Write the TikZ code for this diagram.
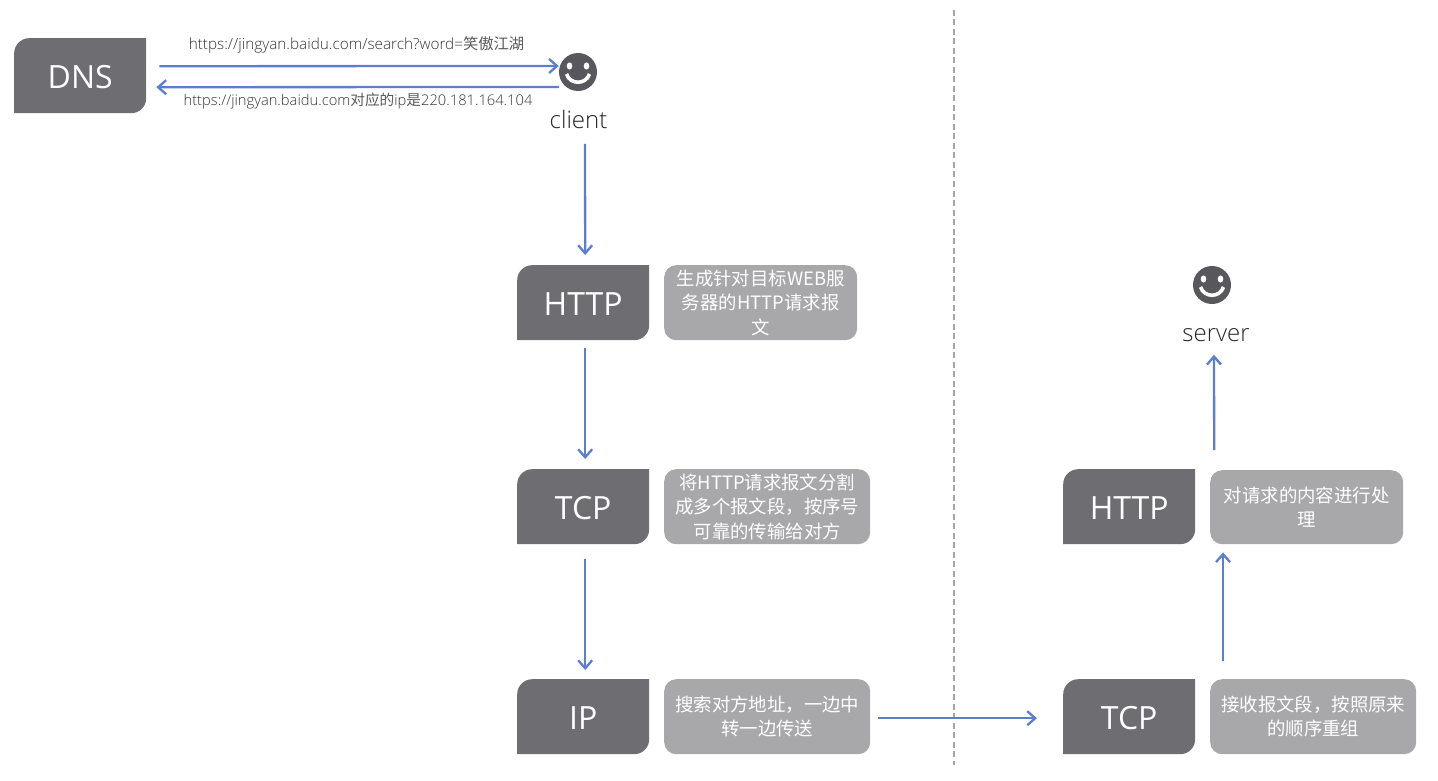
\documentclass[tikz,border=0pt]{standalone}
\usepackage{fontspec}
\setmainfont{Open Sans Light}[BoldFont=Open Sans]
\newfontfamily\boxfont{Open Sans}
\newfontfamily\cjk{Noto Sans CJK SC}
\usetikzlibrary{arrows.meta}
\definecolor{boxgray}{HTML}{6E6D72}
\definecolor{notegray}{HTML}{A8A8AA}
\definecolor{linkblue}{HTML}{5B7FCC}
\definecolor{facegray}{HTML}{58585C}
\definecolor{rulegray}{HTML}{A6A6A8}
\begin{document}
\begin{tikzpicture}[x=1pt,y=-1pt]
      \useasboundingbox (0,0) rectangle (1438,781);

      \tikzstyle{layer} = [
        rectangle,
        anchor=north west,
        inner sep=0pt,
        minimum width=132pt,
        minimum height=75pt,
        text=white,
        text height=26pt,
        text depth=0pt,
        font=\fontsize{32}{36}\selectfont\boxfont,
        path picture={
          \fill[boxgray] (path picture bounding box.north east) [rounded corners=15pt]
            -- (path picture bounding box.south east) [sharp corners]
            -- (path picture bounding box.south west) [rounded corners=15pt]
            -- (path picture bounding box.north west) [sharp corners] -- cycle;
        }
      ]
      \tikzstyle{note} = [
        rectangle,
        anchor=north west,
        fill=notegray,
        rounded corners=12pt,
        inner sep=0pt,
        minimum height=75pt,
        text=white,
        align=center,
        font=\fontsize{18.4}{24.5}\selectfont\cjk
      ]
      \tikzstyle{face} = [
        circle,
        fill=facegray,
        inner sep=0pt,
        minimum size=38pt,
        path picture={
          \fill[white] ([xshift=-8.5pt,yshift=6pt] path picture bounding box.center) ellipse (2.8pt and 3.6pt);
          \fill[white] ([xshift=8.5pt,yshift=6pt] path picture bounding box.center) ellipse (2.8pt and 3.6pt);
          \draw[white,line width=3.6pt] ([xshift=-11.5pt,yshift=-2pt] path picture bounding box.center)
            .. controls ([xshift=-8pt,yshift=-13pt] path picture bounding box.center)
            and ([xshift=8pt,yshift=-13pt] path picture bounding box.center)
            .. ([xshift=11.5pt,yshift=-2pt] path picture bounding box.center);
        }
      ]
      \tikzstyle{who} = [font=\fontsize{24}{28}\selectfont, text=black!85, inner sep=0pt]
      \tikzstyle{url} = [text=black!80, inner sep=0pt]
      \tikzstyle{arrow} = [line width=2.3pt,-{Straight Barb[length=8pt,width=14pt,line width=2.3pt]}, draw=linkblue]

      % dns and client
      \node[layer] (dnsBox) at (14,38) {DNS};
      \node[face] (clientFace) at (578,72) {};
      \node[who] (clientLabel) at (578.5,119.5) {client};
      \node[url,font=\fontsize{15.3}{17}\selectfont] (queryLabel) at (356.5,45) {https://jingyan.baidu.com/search?word={\color{black!65}\cjk 笑傲江湖}};
      \node[url,font=\fontsize{14.7}{17}\selectfont] (answerLabel) at (358,101.5) {https://jingyan.baidu.com{\color{black!65}\cjk 对应的}ip{\color{black!65}\cjk 是}220.181.164.104};

      % sender
      \node[layer] (httpSend) at (517,265) {HTTP};
      \node[note,minimum width=193pt] (httpSendNote) at (664,265) {生成针对目标WEB服\\务器的HTTP请求报\\文};
      \node[layer] (tcpSend) at (517,469) {TCP};
      \node[note,minimum width=206pt] (tcpSendNote) at (664,469) {将HTTP请求报文分割\\成多个报文段，按序号\\可靠的传输给对方};
      \node[layer] (ipSend) at (517,679) {IP};
      \node[note,minimum width=206pt] (ipSendNote) at (664,679) {搜索对方地址，一边中\\转一边传送};

      % receiver
      \node[face] (serverFace) at (1212,285) {};
      \node[who] (serverLabel) at (1216,335) {server};
      \node[layer] (httpRecv) at (1063,469) {HTTP};
      \node[note,minimum width=193pt,minimum height=74pt] (httpRecvNote) at (1210,470) {对请求的内容进行处\\理};
      \node[layer] (tcpRecv) at (1063,679) {TCP};
      \node[note,minimum width=206pt] (tcpRecvNote) at (1210,679) {接收报文段，按照原来\\的顺序重组};

      % divider
      \coordinate (ruleTop) at (954,10);
      \coordinate (ruleBottom) at (954,765);
      \draw[rulegray,line width=1.5pt,dash pattern=on 6pt off 3.5pt] (ruleTop) -- (ruleBottom);

      % forward
      \draw[arrow] ([xshift=13pt,yshift=9.5pt] dnsBox.east) -- ([yshift=6pt] clientFace.west);
      \draw[arrow] ([yshift=-15pt] clientFace.west) -- ([xshift=10pt,yshift=-11.5pt] dnsBox.east);
      \draw[arrow] ([xshift=6.5pt,yshift=-15pt] clientLabel.south) -- ([xshift=2pt,yshift=10pt] httpSend.north);
      \draw[arrow] ([xshift=2pt,yshift=-8pt] httpSend.south) -- ([xshift=2pt,yshift=10pt] tcpSend.north);
      \draw[arrow] ([xshift=2pt,yshift=-15pt] tcpSend.south) -- ([xshift=2pt,yshift=9pt] ipSend.north);
      \draw[arrow] ([xshift=8pt,yshift=-1.5pt] ipSendNote.east) -- ([xshift=-26pt,yshift=-1.5pt] tcpRecv.west);
      \draw[arrow] ([xshift=13pt,yshift=18pt] tcpRecvNote.north west) -- ([xshift=13pt,yshift=-8pt] httpRecvNote.south west);
      \draw[arrow] ([xshift=85pt,yshift=19pt] httpRecv.north) -- ([xshift=-2pt,yshift=-13pt] serverLabel.south);
    \end{tikzpicture}
\end{document}
